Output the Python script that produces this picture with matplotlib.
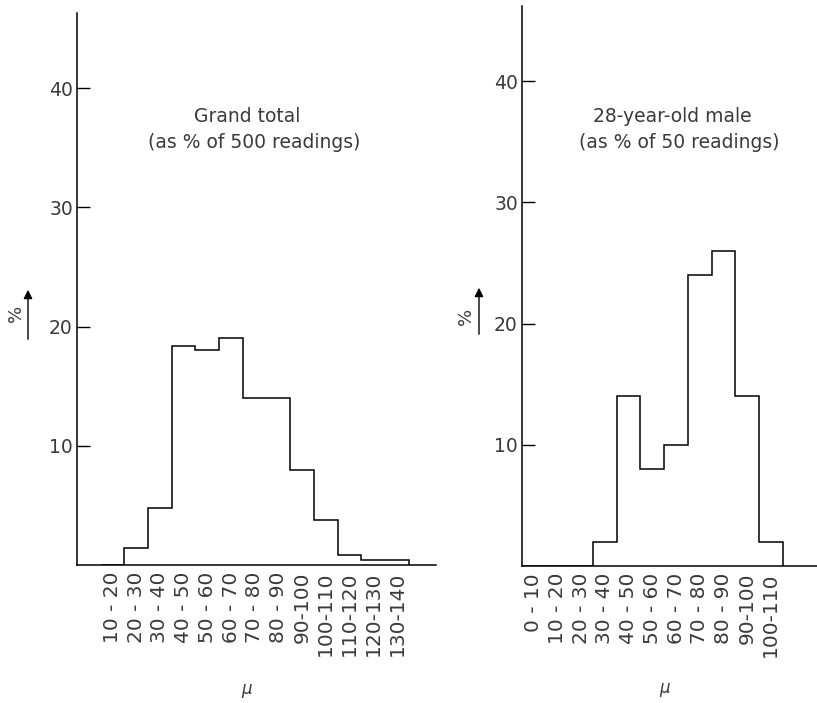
import matplotlib
matplotlib.use("Agg")
import matplotlib.pyplot as plt

plt.rcParams["font.family"] = ["DejaVu Sans"]

# ── data (percent of readings per 10-unit bin of mu) ─────────────────────────
left_edges = [10, 20, 30, 40, 50, 60, 70, 80, 90, 100, 110, 120, 130, 140]
left_labels = ["10 - 20", "20 - 30", "30 - 40", "40 - 50", "50 - 60", "60 - 70",
               "70 - 80", "80 - 90", "90-100", "100-110", "110-120", "120-130",
               "130-140"]
left_values = [0, 1.4, 4.8, 18.4, 18.0, 19.0, 14.0, 14.0, 8.0, 3.8, 0.8, 0.4, 0.4]

right_edges = [0, 10, 20, 30, 40, 50, 60, 70, 80, 90, 100, 110]
right_labels = ["0 - 10", "10 - 20", "20 - 30", "30 - 40", "40 - 50", "50 - 60",
                "60 - 70", "70 - 80", "80 - 90", "90-100", "100-110"]
right_values = [0, 0, 0, 2, 14, 8, 10, 24, 26, 14, 2]

yticks = [10, 20, 30, 40]

W, H = 817, 703
TXT = "#3a3a3a"
fig = plt.figure(figsize=(W / 100, H / 100), dpi=100)
fig.patch.set_facecolor("white")


def px_axes(x0, x1, ybase, ytop):
    return fig.add_axes([x0 / W, 1 - ybase / H, (x1 - x0) / W, (ybase - ytop) / H])


def fx(x):
    return x / W


def fy(y):
    return 1 - y / H


def panel(ax, edges, values, labels, xmax, ymax):
    ax.stairs(values, edges, baseline=0, fill=False, color="black", lw=1.1)
    ax.set_xlim(0, xmax)
    ax.set_ylim(0, ymax)
    for s in ("top", "right"):
        ax.spines[s].set_visible(False)
    ax.spines["left"].set_linewidth(1.1)
    ax.spines["bottom"].set_linewidth(1.1)
    ax.set_yticks(yticks)
    ax.set_yticklabels([str(t) for t in yticks], fontsize=13.5, color=TXT)
    ax.tick_params(axis="y", direction="in", length=9, width=1.0, pad=3)
    centers = [(a + b) / 2 for a, b in zip(edges[:-1], edges[1:])]
    ax.set_xticks(centers)
    ax.set_xticklabels(labels, rotation=90, fontsize=14.5, color=TXT,
                       ha="center", va="top")
    ax.tick_params(axis="x", length=0, pad=5)
    ax.patch.set_alpha(0)


axl = px_axes(77, 436, 565, 13)
panel(axl, left_edges, left_values, left_labels, 151.5, 46.3)

axr = px_axes(522, 817, 566, 6)
panel(axr, right_edges, right_values, right_labels, 124.5, 46.2)

# annotations
fig.text(fx(247), fy(117), "Grand total", ha="center", va="center",
         fontsize=13.5, color=TXT)
fig.text(fx(254), fy(142), "(as % of 500 readings)", ha="center", va="center",
         fontsize=13.5, color=TXT)
fig.text(fx(672), fy(117), "28-year-old male", ha="center", va="center",
         fontsize=13.5, color=TXT)
fig.text(fx(679), fy(142), "(as % of 50 readings)", ha="center", va="center",
         fontsize=13.5, color=TXT)

# y-axis "%" labels with upward arrows
for tx, ty, arx, ay0, ay1 in [(16, 313, 28, 342, 287), (466, 316, 479, 337, 285)]:
    fig.text(fx(tx), fy(ty), "%", rotation=90, ha="center", va="center",
             fontsize=13, color=TXT)
    fig.add_artist(matplotlib.patches.FancyArrowPatch(
        (fx(arx), fy(ay0)), (fx(arx), fy(ay1)), transform=fig.transFigure,
        arrowstyle="-|>", mutation_scale=13, lw=1.0, color="black"))

# mu labels
fig.text(fx(247), fy(691), r"$\mu$", ha="center", va="center",
         fontsize=12, color=TXT)
fig.text(fx(665), fy(690), r"$\mu$", ha="center", va="center",
         fontsize=12, color=TXT)

fig.savefig("out.png", dpi=100, facecolor="white")
